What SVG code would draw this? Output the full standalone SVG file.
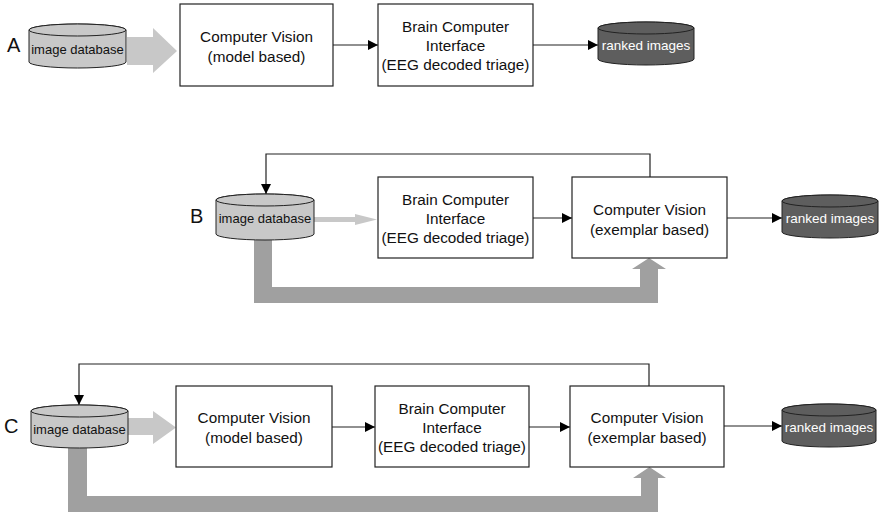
<svg xmlns="http://www.w3.org/2000/svg" width="879" height="514" viewBox="0 0 879 514">
<defs>
<marker id="ah" viewBox="0 0 10 10" refX="10" refY="5" markerWidth="10" markerHeight="10" markerUnits="userSpaceOnUse" orient="auto">
<path d="M0,0 L10,5 L0,10 Z" fill="#000"/>
</marker>
</defs>
<style>
.box{fill:#fff;stroke:#222;stroke-width:1.2}
.t{font-family:"Liberation Sans",Arial,sans-serif;font-size:15.3px;fill:#111;text-anchor:middle}
.ct{font-family:"Liberation Sans",Arial,sans-serif;font-size:13px;fill:#111;text-anchor:middle}
.rt{font-family:"Liberation Sans",Arial,sans-serif;font-size:13.5px;fill:#fff;text-anchor:middle}
.lab{font-family:"Liberation Sans",Arial,sans-serif;font-size:20px;fill:#111}
.db{fill:#c8c8c8;stroke:#222;stroke-width:1}
.rk{fill:#5e5e5e;stroke:#222;stroke-width:1}
.ln{fill:none;stroke:#222;stroke-width:1.2}
.big{fill:#c8c8c8}
.thick{fill:#a0a0a0}
</style>

<text class="lab" x="7" y="52">A</text>
<text class="lab" x="190" y="223">B</text>
<text class="lab" x="4" y="433">C</text>

<g id="connectors">
<polygon class="big" points="127,37 153,37 153,28 177,51 153,73 153,65 127,65"/>
<polygon class="big" points="314,217 355,217 355,214 377,219.5 355,225 355,222 314,222"/>
<polygon class="big" points="128,418 153,418 153,411 176,427.5 153,444 153,435 128,435"/>
<polygon class="thick" points="254,240 272,240 272,287 640,287 640,269 632,269 649,258 666,269 658,269 658,303 254,303"/>
<polygon class="thick" points="68,448 87,448 87,496 641,496 641,478 633,478 649.5,467 666,478 658,478 658,512 68,512"/>
<line class="ln" x1="333" y1="45" x2="378" y2="45" marker-end="url(#ah)"/>
<line class="ln" x1="533" y1="45" x2="598" y2="45" marker-end="url(#ah)"/>
<line class="ln" x1="533" y1="218" x2="572" y2="218" marker-end="url(#ah)"/>
<line class="ln" x1="727" y1="218" x2="782" y2="218" marker-end="url(#ah)"/>
<polyline class="ln" points="650,177 650,154 266,154 266,194" marker-end="url(#ah)"/>
<line class="ln" x1="332" y1="427" x2="375" y2="427" marker-end="url(#ah)"/>
<line class="ln" x1="529" y1="427" x2="570" y2="427" marker-end="url(#ah)"/>
<line class="ln" x1="724" y1="426" x2="782" y2="426" marker-end="url(#ah)"/>
<polyline class="ln" points="649,386 649,364 79,364 79,405" marker-end="url(#ah)"/>
</g>

<g id="dbA">
<path class="db" d="M29,30 A48.5,6 0 0 1 126,30 V62 A48.5,6 0 0 1 29,62 Z"/>
<ellipse class="db" cx="77.5" cy="30" rx="48.5" ry="6"/>
<text class="ct" x="77.5" y="54">image database</text>
</g>
<g id="cvA">
<rect class="box" x="180" y="4" width="153" height="82"/>
<text class="t" x="256.5" y="42">Computer Vision</text>
<text class="t" x="256.5" y="62">(model based)</text>
</g>
<g id="bciA">
<rect class="box" x="378" y="4" width="155" height="82"/>
<text class="t" x="455.5" y="32">Brain Computer</text>
<text class="t" x="455.5" y="51">Interface</text>
<text class="t" x="455.5" y="70">(EEG decoded triage)</text>
</g>
<g id="rankA">
<path class="rk" d="M598,28 A48,6 0 0 1 694,28 V59 A48,6 0 0 1 598,59 Z"/>
<ellipse class="rk" cx="646" cy="28" rx="48" ry="6"/>
<text class="rt" x="646" y="50">ranked images</text>
</g>

<g id="dbB">
<path class="db" d="M216,200 A49,6 0 0 1 314,200 V234 A49,6 0 0 1 216,234 Z"/>
<ellipse class="db" cx="265" cy="200" rx="49" ry="6"/>
<text class="ct" x="265" y="223">image database</text>
</g>
<g id="bciB">
<rect class="box" x="378" y="177" width="155" height="81"/>
<text class="t" x="455.5" y="205">Brain Computer</text>
<text class="t" x="455.5" y="224">Interface</text>
<text class="t" x="455.5" y="243">(EEG decoded triage)</text>
</g>
<g id="cvB">
<rect class="box" x="572" y="177" width="155" height="81"/>
<text class="t" x="649.5" y="215">Computer Vision</text>
<text class="t" x="649.5" y="235">(exemplar based)</text>
</g>
<g id="rankB">
<path class="rk" d="M782,201 A48,6 0 0 1 878,201 V232 A48,6 0 0 1 782,232 Z"/>
<ellipse class="rk" cx="830" cy="201" rx="48" ry="6"/>
<text class="rt" x="830" y="223">ranked images</text>
</g>

<g id="dbC">
<path class="db" d="M31,411 A48.5,6 0 0 1 128,411 V442 A48.5,6 0 0 1 31,442 Z"/>
<ellipse class="db" cx="79.5" cy="411" rx="48.5" ry="6"/>
<text class="ct" x="79.5" y="434">image database</text>
</g>
<g id="cvC">
<rect class="box" x="176" y="386" width="156" height="81"/>
<text class="t" x="254" y="423">Computer Vision</text>
<text class="t" x="254" y="443">(model based)</text>
</g>
<g id="bciC">
<rect class="box" x="375" y="386" width="154" height="81"/>
<text class="t" x="452" y="414">Brain Computer</text>
<text class="t" x="452" y="433">Interface</text>
<text class="t" x="452" y="452">(EEG decoded triage)</text>
</g>
<g id="cvC2">
<rect class="box" x="570" y="386" width="154" height="81"/>
<text class="t" x="647" y="423">Computer Vision</text>
<text class="t" x="647" y="443">(exemplar based)</text>
</g>
<g id="rankC">
<path class="rk" d="M782,410 A47,6 0 0 1 876,410 V441 A47,6 0 0 1 782,441 Z"/>
<ellipse class="rk" cx="829" cy="410" rx="47" ry="6"/>
<text class="rt" x="829" y="432">ranked images</text>
</g>
</svg>
